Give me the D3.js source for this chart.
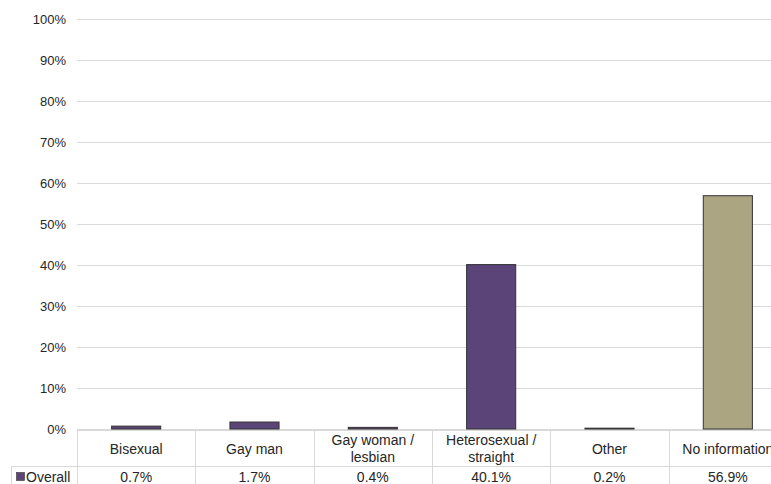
<!DOCTYPE html>
<html lang="en">
<head>
  <meta charset="UTF-8">
  <title>Sexual orientation</title>
  <style>
    body { margin: 0; padding: 0; background: #fff; overflow: hidden; }
    svg { display: block; font-family: "Liberation Sans", Arial, sans-serif; }
    .grid line { stroke: #d9d9d9; stroke-width: 1; }
    .tick-label { font-size: 13px; fill: #262626; }
    .cat { font-size: 14px; fill: #262626; }
    .val { font-size: 14px; fill: #262626; }
    .cell { stroke: #d9d9d9; stroke-width: 1; }
  </style>
</head>
<body>
  <div id="chart"></div>
  <script src="https://d3js.org/d3.v7.min.js"></script>
  <script>
    const categories = ["Bisexual", "Gay man", "Gay woman / lesbian", "Heterosexual / straight", "Other", "No information"];
    const catLines = [["Bisexual"], ["Gay man"], ["Gay woman /", "lesbian"], ["Heterosexual /", "straight"], ["Other"], ["No information"]];
    const values = [0.7, 1.7, 0.4, 40.1, 0.2, 56.9];
    const yTicks = [0, 10, 20, 30, 40, 50, 60, 70, 80, 90, 100];
    const seriesName = "Overall";

    const width = 771, height = 484;
    const plotLeft = 77, plotRight = 787, plotTop = 19, plotBottom = 429;

    const svg = d3.select("#chart").append("svg")
      .attr("width", width).attr("height", height);

    const x = d3.scaleBand().domain(categories).range([plotLeft, plotRight]).padding(0);
    const y = d3.scaleLinear().domain([0, 100]).range([plotBottom, plotTop]);

    // gridlines
    svg.append("g").attr("class", "grid")
      .selectAll("line").data(yTicks).enter().append("line")
      .attr("x1", plotLeft).attr("x2", width)
      .attr("y1", d => Math.round(y(d)) + 0.5).attr("y2", d => Math.round(y(d)) + 0.5);

    svg.append("g").selectAll("text").data(yTicks).enter().append("text")
      .attr("class", "tick-label")
      .attr("x", 66).attr("y", d => y(d) + 4.5)
      .attr("text-anchor", "end")
      .text(d => d + "%");

    // bars
    const barW = x.bandwidth() * 0.415;
    svg.append("g").selectAll("rect").data(categories).enter().append("rect")
      .attr("x", d => x(d) + (x.bandwidth() - barW) / 2)
      .attr("width", barW)
      .attr("y", (d, i) => y(values[i]))
      .attr("height", (d, i) => plotBottom - y(values[i]))
      .attr("fill", (d, i) => i === 5 ? "#aba582" : "#5b4478")
      .attr("stroke", "#333")
      .attr("stroke-width", 1);

    // data table
    const t = svg.append("g");
    const rowTop = 430.5, rowMid = 466.5;
    t.append("line").attr("class", "cell").attr("x1", plotLeft).attr("x2", width).attr("y1", rowTop).attr("y2", rowTop);
    t.append("line").attr("class", "cell").attr("x1", 11).attr("x2", width).attr("y1", rowMid).attr("y2", rowMid);
    t.append("line").attr("class", "cell").attr("x1", 11.5).attr("x2", 11.5).attr("y1", rowMid).attr("y2", height);
    t.selectAll(".vsep").data(categories).enter().append("line")
      .attr("class", "cell")
      .attr("x1", d => Math.round(x(d)) + 0.5).attr("x2", d => Math.round(x(d)) + 0.5)
      .attr("y1", rowTop).attr("y2", height);

    categories.forEach((c, i) => {
      const cx = x(c) + x.bandwidth() / 2;
      const lines = catLines[i];
      const y0 = lines.length === 1 ? 454 : 445;
      lines.forEach((ln, j) => {
        t.append("text").attr("class", "cat")
          .attr("x", cx).attr("y", y0 + j * 17)
          .attr("text-anchor", "middle").text(ln);
      });
      t.append("text").attr("class", "val")
        .attr("x", cx).attr("y", 482)
        .attr("text-anchor", "middle").text(values[i].toFixed(1) + "%");
    });

    t.append("rect").attr("x", 16.5).attr("y", 472.5).attr("width", 8).attr("height", 8)
      .attr("fill", "#5b4478").attr("stroke", "#333").attr("stroke-width", 0.6);
    t.append("text").attr("class", "val").attr("x", 26).attr("y", 482).text(seriesName);
  </script>
</body>
</html>
